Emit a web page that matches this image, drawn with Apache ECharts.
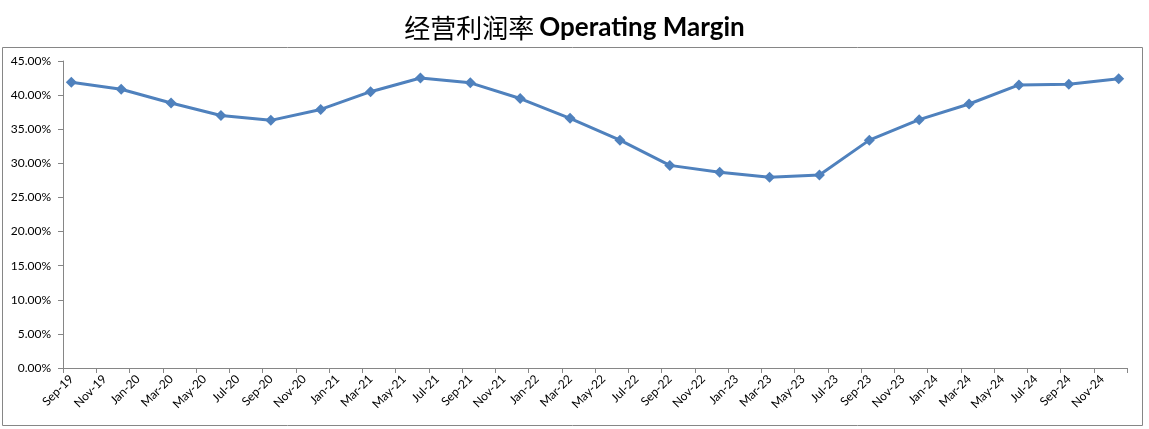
<!DOCTYPE html>
<html>
<head>
<meta charset="utf-8">
<script src="https://cdn.jsdelivr.net/npm/echarts@6/dist/echarts.min.js"></script>
<style>
html,body{margin:0;padding:0;background:#fff;}
#chart{width:1149px;height:429px;}
</style>
</head>
<body>
<div id="chart"></div>
<script>
// Monthly axis categories (Excel date axis, base unit = month)
const months = [
  'Sep-19','Oct-19','Nov-19','Dec-19',
  'Jan-20','Feb-20','Mar-20','Apr-20','May-20','Jun-20','Jul-20','Aug-20','Sep-20','Oct-20','Nov-20','Dec-20',
  'Jan-21','Feb-21','Mar-21','Apr-21','May-21','Jun-21','Jul-21','Aug-21','Sep-21','Oct-21','Nov-21','Dec-21',
  'Jan-22','Feb-22','Mar-22','Apr-22','May-22','Jun-22','Jul-22','Aug-22','Sep-22','Oct-22','Nov-22','Dec-22',
  'Jan-23','Feb-23','Mar-23','Apr-23','May-23','Jun-23','Jul-23','Aug-23','Sep-23','Oct-23','Nov-23','Dec-23',
  'Jan-24','Feb-24','Mar-24','Apr-24','May-24','Jun-24','Jul-24','Aug-24','Sep-24','Oct-24','Nov-24','Dec-24'
];
// Quarterly observation dates
const quarters = [
  'Sep-19','Dec-19','Mar-20','Jun-20','Sep-20','Dec-20','Mar-21','Jun-21','Sep-21','Dec-21','Mar-22',
  'Jun-22','Sep-22','Dec-22','Mar-23','Jun-23','Sep-23','Dec-23','Mar-24','Jun-24','Sep-24','Dec-24'
];
// Operating margin (%)
const margin = [
  41.9, 40.85, 38.85, 37.0, 36.3, 37.9, 40.5, 42.5, 41.8, 39.5, 36.6,
  33.4, 29.7, 28.7, 27.95, 28.3, 33.4, 36.4, 38.7, 41.5, 41.6, 42.4
];
// Y-axis ticks
const yMin = 0, yMax = 45, yStep = 5;

const seriesData = quarters.map((q, i) => [q, margin[i]]);

const chart = echarts.init(document.getElementById('chart'), null, {renderer: 'canvas'});
const axisGray = '#868686';
const labelFont = 'Lato, "Open Sans", sans-serif';

chart.setOption({
  animation: false,
  backgroundColor: '#ffffff',
  title: {
    text: '{cn|经营利润率} {en|Operating Margin}',
    left: 'center',
    top: 10,
    textStyle: {
      rich: {
        cn: {fontFamily: '"Noto Sans CJK SC", sans-serif', fontSize: 26, fontWeight: 'normal', color: '#000'},
        en: {fontFamily: 'Lato, "Open Sans", sans-serif', fontSize: 26, fontWeight: 'bold', color: '#000'}
      }
    }
  },
  graphic: [{
    type: 'rect',
    shape: {x: 2.5, y: 47.5, width: 1140, height: 378},
    style: {fill: 'none', stroke: axisGray, lineWidth: 1},
    silent: true,
    z: -1
  }],
  grid: {left: 63, right: 22, top: 61, bottom: 61, containLabel: false},
  xAxis: {
    type: 'category',
    data: months,
    boundaryGap: true,
    axisLine: {lineStyle: {color: axisGray, width: 1}},
    axisTick: {show: true, interval: 1, length: 5, lineStyle: {color: axisGray}},
    axisLabel: {
      interval: (idx) => idx % 2 === 0 && idx < months.length - 1,
      rotate: 45,
      margin: 9,
      fontSize: 12,
      fontFamily: labelFont,
      color: '#000',
      hideOverlap: false
    },
    splitLine: {show: false}
  },
  yAxis: {
    type: 'value',
    min: yMin,
    max: yMax,
    interval: yStep,
    axisLine: {show: true, lineStyle: {color: axisGray, width: 1}},
    axisTick: {show: true, length: 5, lineStyle: {color: axisGray}},
    axisLabel: {
      formatter: v => v.toFixed(2) + '%',
      fontSize: 12,
      fontFamily: labelFont,
      color: '#000',
      margin: 12
    },
    splitLine: {show: false}
  },
  series: [{
    type: 'line',
    data: seriesData,
    symbol: 'diamond',
    symbolSize: 11,
    lineStyle: {color: '#4F81BD', width: 3},
    itemStyle: {color: '#4F81BD'},
    connectNulls: true
  }]
});
</script>
</body>
</html>
